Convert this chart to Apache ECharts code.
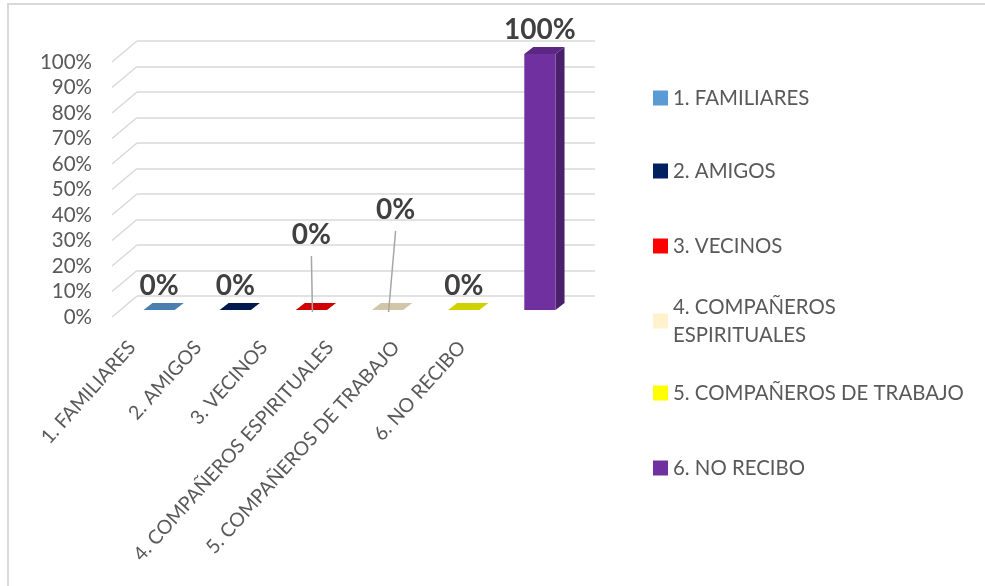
<!DOCTYPE html>
<html><head><meta charset="utf-8">
<script src="https://cdn.jsdelivr.net/npm/echarts@6/dist/echarts.min.js"></script>
<style>html,body{margin:0;padding:0;background:#fff}#c{width:985px;height:586px}</style>
</head><body><div id="c"></div>
<script>
// ---- data ----
const categories = ['1. FAMILIARES', '2. AMIGOS', '3. VECINOS', '4. COMPAÑEROS ESPIRITUALES', '5. COMPAÑEROS DE TRABAJO', '6. NO RECIBO'];
const values = [0, 0, 0, 0, 0, 100];
const yTicks = [0, 10, 20, 30, 40, 50, 60, 70, 80, 90, 100];

// ---- styles / layout ----
const colors = ['#5B9BD5', '#002060', '#FF0000', '#FFF2CC', '#FFFF00', '#7030A0'];
const labelShift = [[0, 0], [0, 0], [0, 51], [8, 76], [0, 0], [0, 0]]; // manual label offsets (dx, lift)
const legendCenters = [98, 171, 246, 321, 393, 468];
const FONT = 'Lato, "Noto Sans", sans-serif';
const DX = 9, DY = 7;       // bar depth
const WX = 25, WY = 21;     // wall depth

function shade(hex, f) {
  const n = parseInt(hex.slice(1), 16);
  const r = Math.round(((n >> 16) & 255) * f), g = Math.round(((n >> 8) & 255) * f), b = Math.round((n & 255) * f);
  return 'rgb(' + r + ',' + g + ',' + b + ')';
}

const chart = echarts.init(document.getElementById('c'), null, {renderer: 'canvas'});

const scaleY = {type: 'value', min: 0, max: 100, interval: 10};

const series = [];
// diagonal (side-wall) grid lines
series.push({
  type: 'custom', xAxisIndex: 0, yAxisIndex: 0, silent: true, z: 1,
  data: yTicks.map(v => [0, v]),
  renderItem: function (params, api) {
    const y = api.coord([0, api.value(1)])[1];
    const x0 = params.coordSys.x;
    return {type: 'line', shape: {x1: x0, y1: y, x2: x0 - WX, y2: y + WY},
      style: {stroke: '#d9d9d9', lineWidth: 1.5}};
  }
});

categories.forEach(function (name, i) {
  series.push({
    type: 'custom', name: name, xAxisIndex: 2, yAxisIndex: 2, z: 5,
    itemStyle: {color: colors[i]},
    data: [[i, values[i]]],
    renderItem: function (params, api) {
      const idx = api.value(0), v = api.value(1);
      const p0 = api.coord([idx, 0]);
      const p1 = api.coord([idx, v]);
      const w = api.size([1, 0])[0] * 0.41;
      const x0 = p0[0] - w / 2, x1 = x0 + w;
      const yT = p1[1], yB = p0[1];
      const base = colors[idx];
      const children = [
        {type: 'polygon', shape: {points: [[x1, yT], [x1 + DX, yT - DY], [x1 + DX, yB - DY], [x1, yB]]},
          style: {fill: shade(base, 0.66)}},
        {type: 'rect', shape: {x: x0, y: yT, width: w, height: yB - yT}, style: {fill: base}},
        {type: 'polygon', shape: {points: [[x0, yT], [x1, yT], [x1 + DX, yT - DY], [x0 + DX, yT - DY]]},
          style: {fill: shade(base, 0.82)}}
      ];
      const sh = labelShift[idx];
      const tx = p0[0] + sh[0], ty = yT - 24 - sh[1];
      if (sh[1] > 0) {
        children.push({type: 'line', shape: {x1: tx, y1: ty + 21, x2: p0[0] + 1, y2: yT + 2},
          style: {stroke: '#a6a6a6', lineWidth: 1.5}});
      }
      children.push({type: 'text', x: tx, y: ty,
        style: {text: Math.round(v) + '%', fill: '#404040', font: 'bold 28px ' + FONT,
          align: 'center', verticalAlign: 'middle'}});
      return {type: 'group', children: children};
    }
  });
});

const legends = categories.map(function (name, i) {
  const two = name.indexOf('ESPIRITUALES') >= 0;
  return {
    data: [name], left: 653, top: two ? legendCenters[i] - 42 : legendCenters[i] - 14,
    orient: 'vertical', padding: 0, itemGap: 0, itemWidth: 15, itemHeight: 15, icon: 'rect',
    selectedMode: false,
    formatter: n => n.replace(' ESPIRITUALES', '\nESPIRITUALES'),
    textStyle: {fontFamily: FONT, fontSize: 20.4, color: '#595959', lineHeight: 28,
      padding: two ? [28, 0, 0, 0] : 0}
  };
});

chart.setOption({
  backgroundColor: '#fff',
  animation: false,
  graphic: [{type: 'rect', silent: true, shape: {x: 8, y: 4, width: 1000, height: 620},
    style: {fill: 'none', stroke: '#d9d9d9', lineWidth: 2}}],
  grid: [
    {left: 137, right: 390, top: 41, bottom: 290},   // back wall
    {left: 112, right: 415, top: 62, bottom: 269},   // front plane (value labels)
    {left: 121, right: 407, top: 54, bottom: 276},   // bar plane
    {left: 99, right: 490, top: 100, bottom: 250}    // category label plane
  ],
  xAxis: [
    {type: 'category', gridIndex: 0, data: categories, show: false},
    {type: 'category', gridIndex: 1, data: categories, show: false},
    {type: 'category', gridIndex: 2, data: categories, show: false},
    {type: 'category', gridIndex: 3, data: categories,
      axisLine: {show: false}, axisTick: {show: false},
      axisLabel: {rotate: 48, interval: 0, margin: 8, color: '#595959', fontFamily: FONT, fontSize: 19.5}}
  ],
  yAxis: [
    Object.assign({gridIndex: 0, axisLabel: {show: false}, axisLine: {show: false}, axisTick: {show: false},
      splitLine: {show: true, lineStyle: {color: '#d9d9d9', width: 1.5}}}, scaleY),
    Object.assign({gridIndex: 1, axisLine: {show: false}, axisTick: {show: false}, splitLine: {show: false},
      axisLabel: {formatter: '{value}%', margin: 20, color: '#595959', fontFamily: FONT, fontSize: 20.5}}, scaleY),
    Object.assign({gridIndex: 2, show: false, splitLine: {show: false}}, scaleY),
    Object.assign({gridIndex: 3, show: false, splitLine: {show: false}}, scaleY)
  ],
  legend: legends,
  series: series
});
</script></body></html>
